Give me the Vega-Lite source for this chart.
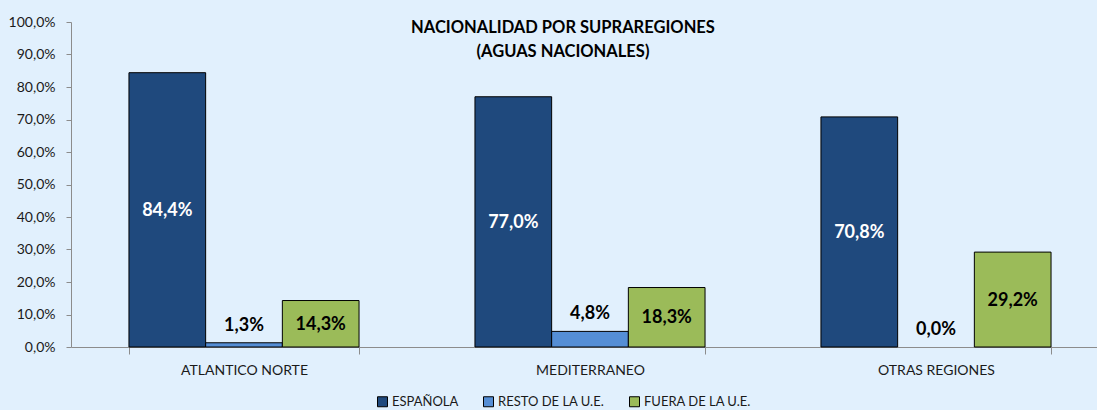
{
  "$schema": "https://vega.github.io/schema/vega-lite/v6.json",
  "width": 1038,
  "height": 325,
  "autosize": "none",
  "padding": {"left": 71, "top": 22, "right": 0, "bottom": 63},
  "background": "#E1F0FD",
  "config": {"view": {"stroke": null}, "font": "Lato", "axisY": {"labelOverlap": false}},
  "title": {
    "text": ["NACIONALIDAD POR SUPRAREGIONES", "(AGUAS NACIONALES)"],
    "fontSize": 16.5,
    "fontWeight": "bold",
    "lineHeight": 24,
    "color": "#000000",
    "anchor": "middle",
    "offset": -45,
    "dx": -27
  },
  "data": {
    "values": [
      {"region": "ATLANTICO NORTE", "nat": "ESPAÑOLA", "value": 84.4},
      {"region": "ATLANTICO NORTE", "nat": "RESTO DE LA U.E.", "value": 1.3},
      {"region": "ATLANTICO NORTE", "nat": "FUERA DE LA U.E.", "value": 14.3},
      {"region": "MEDITERRANEO", "nat": "ESPAÑOLA", "value": 77.0},
      {"region": "MEDITERRANEO", "nat": "RESTO DE LA U.E.", "value": 4.8},
      {"region": "MEDITERRANEO", "nat": "FUERA DE LA U.E.", "value": 18.3},
      {"region": "OTRAS REGIONES", "nat": "ESPAÑOLA", "value": 70.8},
      {"region": "OTRAS REGIONES", "nat": "RESTO DE LA U.E.", "value": 0.0},
      {"region": "OTRAS REGIONES", "nat": "FUERA DE LA U.E.", "value": 29.2}
    ]
  },
  "transform": [
    {"calculate": "replace(format(datum.value, '.1f'), '.', ',') + '%'", "as": "label"},
    {"calculate": "datum.value / 2", "as": "mid"}
  ],
  "encoding": {
    "x": {
      "field": "region",
      "type": "nominal",
      "sort": ["ATLANTICO NORTE", "MEDITERRANEO", "OTRAS REGIONES"],
      "scale": {"paddingInner": 0.335, "paddingOuter": 0.1675},
      "axis": {
        "title": null,
        "labelAngle": 0,
        "labelFontSize": 14,
        "labelColor": "#1a1a1a",
        "labelPadding": 9,
        "domainColor": "#8c8c8c",
        "tickColor": "#8c8c8c",
        "tickBand": "extent",
        "tickSize": 7
      }
    },
    "xOffset": {
      "field": "nat",
      "sort": ["ESPAÑOLA", "RESTO DE LA U.E.", "FUERA DE LA U.E."],
      "scale": {"paddingInner": 0, "paddingOuter": 0}
    }
  },
  "layer": [
    {
      "mark": {"type": "bar", "stroke": "#000000", "strokeWidth": 1},
      "encoding": {
        "y": {
          "field": "value",
          "type": "quantitative",
          "scale": {"domain": [0, 100], "nice": false},
          "axis": {
            "title": null,
            "values": [0, 10, 20, 30, 40, 50, 60, 70, 80, 90, 100],
            "labelExpr": "replace(format(datum.value, '.1f'), '.', ',') + '%'",
            "labelOverlap": false,
            "labelFontSize": 14,
            "labelColor": "#1a1a1a",
            "labelPadding": 11,
            "tickSize": 5,
            "grid": false,
            "domainColor": "#8c8c8c",
            "tickColor": "#8c8c8c"
          }
        },
        "strokeOpacity": {
          "condition": {"test": "datum.value == 0", "value": 0},
          "value": 1
        },
        "color": {
          "field": "nat",
          "type": "nominal",
          "sort": ["ESPAÑOLA", "RESTO DE LA U.E.", "FUERA DE LA U.E."],
          "scale": {
            "domain": ["ESPAÑOLA", "RESTO DE LA U.E.", "FUERA DE LA U.E."],
            "range": ["#1F497D", "#558ED5", "#9BBB59"]
          },
          "legend": {
            "title": null,
            "orient": "none",
            "direction": "horizontal",
            "legendX": 305,
            "legendY": 373,
            "symbolType": "square",
            "symbolSize": 100,
            "symbolStrokeColor": "#000000",
            "symbolStrokeWidth": 1,
            "symbolOpacity": 1,
            "labelFontSize": 13,
            "labelColor": "#1a1a1a",
            "labelOffset": 3,
            "columnPadding": 22
          }
        }
      }
    },
    {
      "transform": [{"filter": "datum.nat != 'RESTO DE LA U.E.'"}],
      "mark": {"type": "text", "fontSize": 18, "fontWeight": "bold", "baseline": "middle", "dy": 1},
      "encoding": {
        "y": {
          "field": "mid",
          "type": "quantitative",
          "axis": {
            "title": null,
            "values": [0, 10, 20, 30, 40, 50, 60, 70, 80, 90, 100],
            "labelExpr": "replace(format(datum.value, '.1f'), '.', ',') + '%'",
            "labelOverlap": false,
            "labelFontSize": 14,
            "labelColor": "#1a1a1a",
            "labelPadding": 11,
            "tickSize": 5,
            "grid": false,
            "domainColor": "#8c8c8c",
            "tickColor": "#8c8c8c"
          }
        },
        "text": {"field": "label"},
        "color": {
          "condition": {"test": "datum.nat == 'ESPAÑOLA'", "value": "#ffffff"},
          "value": "#000000"
        }
      }
    },
    {
      "transform": [{"filter": "datum.nat == 'RESTO DE LA U.E.'"}],
      "mark": {"type": "text", "fontSize": 18, "fontWeight": "bold", "baseline": "middle", "dy": -17, "color": "#000000"},
      "encoding": {
        "y": {
          "field": "value",
          "type": "quantitative",
          "axis": {
            "title": null,
            "values": [0, 10, 20, 30, 40, 50, 60, 70, 80, 90, 100],
            "labelExpr": "replace(format(datum.value, '.1f'), '.', ',') + '%'",
            "labelOverlap": false,
            "labelFontSize": 14,
            "labelColor": "#1a1a1a",
            "labelPadding": 11,
            "tickSize": 5,
            "grid": false,
            "domainColor": "#8c8c8c",
            "tickColor": "#8c8c8c"
          }
        },
        "text": {"field": "label"}
      }
    }
  ]
}
